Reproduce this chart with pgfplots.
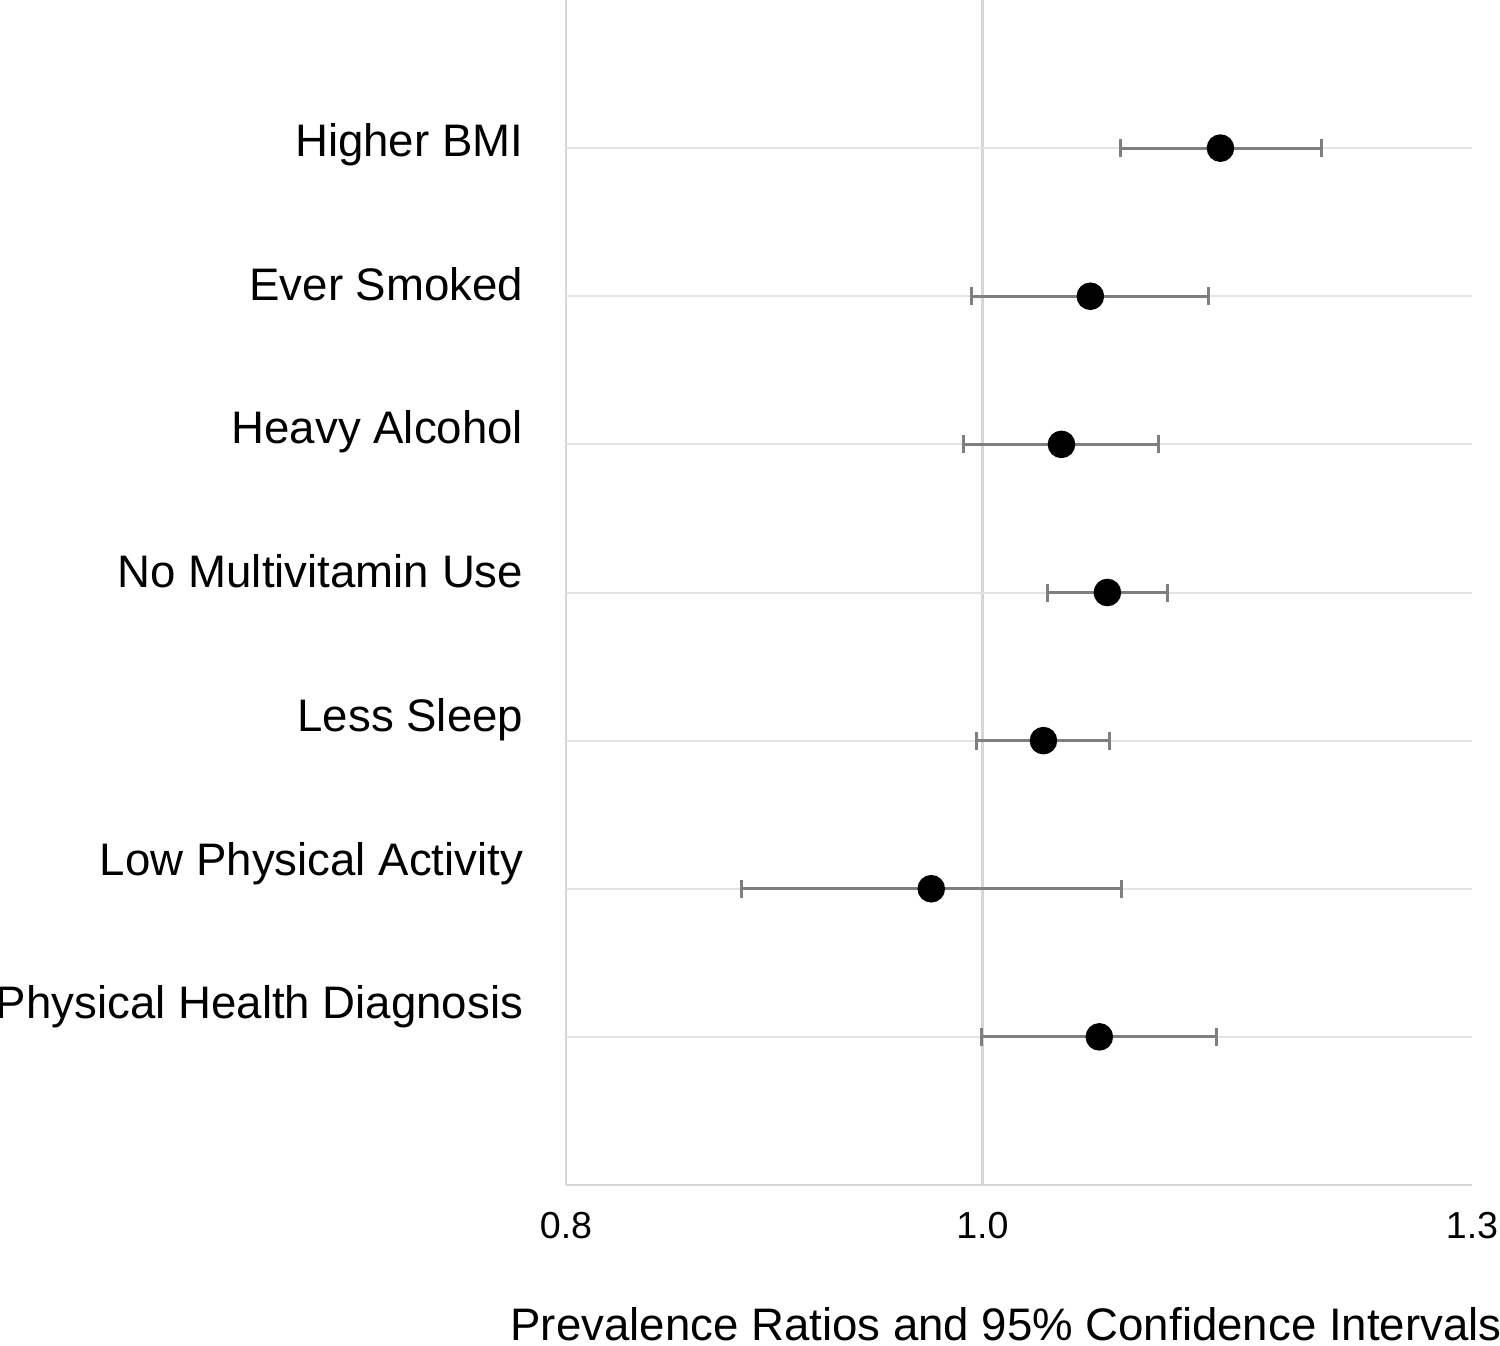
\documentclass[border=0pt]{standalone}
\usepackage{fontspec}
\setmainfont{Liberation Sans}
\usepackage{pgfplots}
\pgfplotsset{compat=1.18}
\usetikzlibrary{arrows.meta}
\definecolor{gridc}{HTML}{E3E3E3}
\definecolor{axc}{HTML}{D6D6D6}
\definecolor{errc}{HTML}{7F7F7F}
\pgfplotstableread{
y pr
7 1.1361
6 1.0596
5 1.0433
4 1.0693
3 1.0333
2 0.9730
1 1.0647
}\pointdata
\begin{document}
\begin{tikzpicture}
\begin{axis}[
 name=ax, at={(0,0)}, anchor=south west,
 scale only axis, width=226.5pt, height=296.25pt,
 xmode=log, xmin=0.8, xmax=1.3, ymin=0, ymax=8,
 axis x line*=bottom, axis y line*=left,
 axis line style={draw=axc, line width=0.7pt, -},
 xtick={0.8,1.0,1.3}, xticklabels={0.8,1.0,1.3}, minor xtick={},
 ytick={1.122,2.092,3.062,4.033,5.003,5.973,6.944},
 yticklabels={Physical Health Diagnosis, Low Physical Activity, Less Sleep, No Multivitamin Use, Heavy Alcohol, Ever Smoked, Higher BMI},
 major tick length=0pt, minor tick length=0pt,
 extra y ticks={1,2,3,4,5,6,7}, extra y tick labels={},
 extra y tick style={grid=major, major grid style={draw=gridc, line width=0.5pt}},
 extra x ticks={1}, extra x tick labels={},
 extra x tick style={grid=major, major grid style={draw=axc, line width=0.7pt}},
 /pgf/number format/assume math mode=true,
 xticklabel style={anchor=base, inner sep=0pt, yshift=-13.5pt, font=\fontsize{9.4}{11}\selectfont},
 yticklabel style={anchor=base east, inner sep=0pt, xshift=-10.5pt, font=\fontsize{11.4}{13}\selectfont},
 xlabel={Prevalence Ratios and 95\% Confidence Intervals},
 xlabel style={at={(axis description cs:0.5,0)}, anchor=base, inner sep=0pt, yshift=-39pt, xshift=-3.25pt, font=\fontsize{11.4}{13}\selectfont},
 clip=false,
]
\addplot[errc, line width=0.75pt, {Bar[width=4.5pt]}-{Bar[width=4.5pt]}] coordinates {(1.0762,7) (1.2000,7)};
\addplot[errc, line width=0.75pt, {Bar[width=4.5pt]}-{Bar[width=4.5pt]}] coordinates {(0.9936,6) (1.1300,6)};
\addplot[errc, line width=0.75pt, {Bar[width=4.5pt]}-{Bar[width=4.5pt]}] coordinates {(0.9893,5) (1.0996,5)};
\addplot[errc, line width=0.75pt, {Bar[width=4.5pt]}-{Bar[width=4.5pt]}] coordinates {(1.0349,4) (1.1049,4)};
\addplot[errc, line width=0.75pt, {Bar[width=4.5pt]}-{Bar[width=4.5pt]}] coordinates {(0.9963,3) (1.0716,3)};
\addplot[errc, line width=0.75pt, {Bar[width=4.5pt]}-{Bar[width=4.5pt]}] coordinates {(0.8783,2) (1.0780,2)};
\addplot[errc, line width=0.75pt, {Bar[width=4.5pt]}-{Bar[width=4.5pt]}] coordinates {(0.9989,1) (1.1343,1)};
\addplot[only marks, mark=*, mark size=3.25pt, black, mark options={fill=black}] table[x=pr, y=y] {\pointdata};
\end{axis}
\pgfresetboundingbox
\path[use as bounding box] (ax.south west) ++(-141.5pt,-40.25pt) rectangle ++(375pt,336.5pt);
\end{tikzpicture}
\end{document}
